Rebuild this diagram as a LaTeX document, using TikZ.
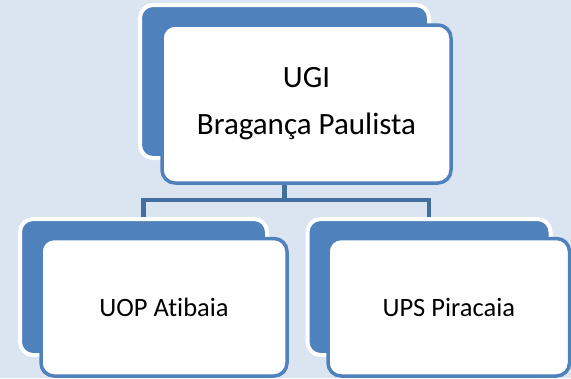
\documentclass[tikz,border=0pt]{standalone}
\usepackage{fontspec}
\setmainfont[RawFeature={-liga}]{Carlito}
\definecolor{bg}{HTML}{DBE5F1}
\definecolor{acc}{HTML}{4F81BD}
\definecolor{connc}{HTML}{41709F}
\begin{document}
\begin{tikzpicture}[x=1pt,y=-1pt,
  backbox/.style={draw=white, line width=4pt, fill=acc, rounded corners=13pt, inner sep=0pt},
  frontbox/.style={draw=acc, line width=3.5pt, fill=white, rounded corners=13pt, inner sep=0pt, align=center, text=black},
  conn/.style={draw=connc, line width=4.5pt}]
\fill[bg] (0,0) rectangle (571,378);
\useasboundingbox (0,0) rectangle (571,378);
\coordinate (bus) at (0,200);
% boxes
\node[backbox, minimum width=289pt, minimum height=153pt] (topback) at (284.5,81.5) {};
\node[backbox, minimum width=247pt, minimum height=136pt] (leftback) at (143.5,287) {};
\node[backbox, minimum width=243pt, minimum height=136pt] (rightback) at (429,287) {};
% connectors
\draw[conn] (topback.south) ++(0,10) -- (topback.south |- bus);
\draw[conn] (leftback.north) -- (leftback.north |- bus) -- (rightback.north |- bus) -- (rightback.north);
\node[frontbox, minimum width=289pt, minimum height=158pt, font=\fontsize{31}{47}\selectfont] (topfront) at (306.5,104) {UGI\\Bragança Paulista};
\node[frontbox, minimum width=246pt, minimum height=137.5pt, font=\fontsize{26.5}{31}\selectfont] (leftfront) at (164,307.25) {UOP Atibaia};
\node[frontbox, minimum width=241.5pt, minimum height=137.5pt, font=\fontsize{26.5}{31}\selectfont] (rightfront) at (448.75,307.25) {UPS Piracaia};
\end{tikzpicture}
\end{document}
